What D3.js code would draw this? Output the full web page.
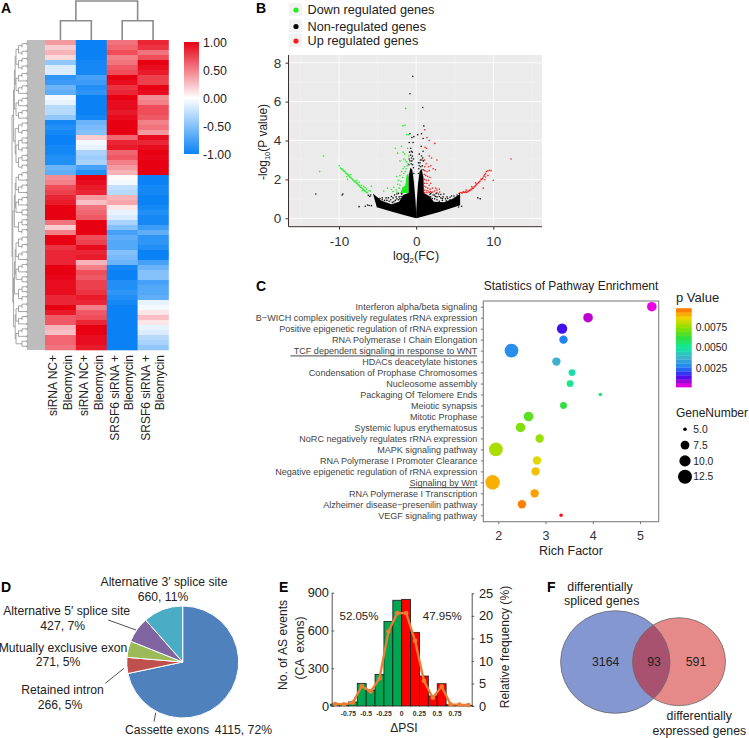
<!DOCTYPE html>
<html><head><meta charset="utf-8">
<script src="https://cdn.jsdelivr.net/npm/d3@7"></script>
<style>
html,body{margin:0;padding:0;background:#fff}
svg{display:block}
text{font-family:"Liberation Sans",Arial,sans-serif;fill:#222}
</style></head><body><svg id="c" width="749" height="738"></svg>
<script>
// ---------- A: heatmap ----------
const heatColumns=[["siRNA NC+","Bleomycin"],["siRNA NC+","Bleomycin"],["SRSF6 siRNA +","Bleomycin"],["SRSF6 siRNA +","Bleomycin"]];
const heatRows=[
[.4,-1,.55,.85],[.2,-1,.6,.8],[.3,-1,.7,.55],[.15,-1,.5,.7],[-.45,-.95,.55,1],[-.15,-.95,.65,.95],[-.15,-.95,.7,.9],
[-.85,-.75,1,.75],[-.8,-.8,.95,.75],[-.6,-.9,.8,1],[-.65,-.85,.85,.95],[-.05,-1,1,.45],[-.1,-1,.95,.5],[-.3,-1,.95,.7],
[-.3,-1,.9,.7],[-.45,-.95,.95,.65],[-.95,-.6,1,.5],[-.9,-.55,1,.55],[-.95,-.5,1,.4],[-1,.2,.6,.95],[-1,-.05,.85,.85],
[-.95,-.1,.9,.95],[-.95,-.35,.6,1],[-.9,-.4,.65,.98],[-.9,-.35,.5,1],[-.6,-.75,.4,1],[-.65,-.9,.3,1],[.45,1,.02,-1],
[.5,.95,-.05,-1],[.7,.9,-.25,-.95],[.75,.85,-.3,-.95],[.85,.4,.3,-1],[.9,.25,.35,-1],[1,.55,.1,-.95],[1,.6,-.1,-.9],
[1,.65,-.15,-.95],[.55,1,-.35,-.95],[.2,1,-.5,-.8],[.5,1,-.75,-.65],[1,.7,-.65,-.85],[1,.75,-.7,-.85],[.8,.95,-.7,-.9],
[.85,.85,-.5,-1],[.85,.9,-.55,-1],[.85,.3,-.6,-.75],[1,.5,-.95,-.6],[1,.7,-1,-.5],[.98,.65,-1,-.5],[.95,.75,-.9,-.75],
[.95,.75,-.9,-.7],[.95,.8,-.85,-.7],[.85,.9,-.9,-.65],[.85,.85,-.95,-.1],[1,.5,-1,-.05],[.9,.65,-1,.1],[.65,.7,-1,.25],
[.65,.85,-1,.1],[.3,1,-1,-.1],[.25,1,-1,-.15],[.6,.95,-1,-.3],[.6,.95,-1,-.35],[.55,.9,-1,-.45]];
const heatTicks=[1,.5,0,-.5,-1];
const rowTree=[[[[12,10],10],[6,14]],[[[10,9],7],[[[11,9],7],19]]];
const colTree=[[0,1],[2,3]];

// ---------- B: volcano ----------
const volcanoLegend=[["Down regulated genes","#19f01e"],["Non-regulated genes","#000"],["Up regulated genes","#ff1a1a"]];
const volcanoDownDense=[[-1,1.3],[-2.05,1.3],[-1.75,1.6],[-1.4,1.7],[-1.25,2.2],[-1.05,2.3],[-1,2.3]];
const volcanoNonDenseLeft=[[0,0],[-1,.11],[-3,.33],[-5.1,.57],[-5.6,1.28],[-4.5,.9],[-3.2,.72],[-2.2,.85],[-1.7,1.2],[-1,1.3],[-1,2.1],[-.75,2.6],[-.5,2.5],[-.3,1.9],[-.08,.9],[0,.3]];
const volcanoNonDenseRight=[[0,0],[1,.11],[3,.33],[5.7,.67],[5.7,1.25],[4.6,.98],[3.6,.82],[2.3,.85],[1.7,1.15],[1,1.3],[.95,2.1],[.7,2.55],[.45,2.4],[.25,1.8],[.08,.9],[0,.3]];
const volcanoDown=[[-12,3.2],[-12.5,2.4],[-10,2.7],[-9.8,2.58],[-9.7,2.55],[-9.6,2.53],[-9.5,2.48],[-9.4,2.45],[-9.3,2.42],[-9.2,2.38],[-9.1,2.33],[-9,2.3],[-8.9,2.26],[-8.8,2.22],[-8.7,2.18],[-8.6,2.14],[-8.5,2.1],[-8.4,2.06],[-8.3,2.02],[-8.2,1.98],[-8.1,1.94],[-8,1.9],[-7.9,1.86],[-7.8,1.84],[-7.7,1.8],[-7.6,1.77],[-7.5,1.72],[-7.4,1.68],[-7.3,1.64],[-7.2,1.6],[-7.1,1.58],[-7,1.54],[-6.9,1.5],[-6.8,1.46],[-6.7,1.42],[-6.6,1.4],[-6.5,1.36],[-6.4,1.33],[-6.3,1.31],[-9,2.15],[-8.5,2.25],[-8.9,2.0],[-7.7,1.95],[-7.4,1.85],[-7.1,1.7],[-6.8,1.65],[-6.6,1.58],[-7,1.42],[-6.4,1.5],[-5.8,1.65],[-6.1,1.42],[-5.9,1.4],[-4.2,1.4],[-3.7,1.55],[-2.9,1.6],[-3.2,1.48],[-2.7,3.6],[-2.4,3.35],[-1.9,3.7],[-1.35,5.65],[-1.7,4.75],[-1.45,4.78],[-1.2,4.3],[-.95,4.3],[-1.5,3.3],[-1.6,3.05],[-1.7,3.4],[-1.4,3],[-2.1,2.95],[-1.1,3.6],[-.95,3.2],[-1.25,2.9],[-1.05,2.8],[-2.5,2.15],[-2.3,1.95],[-2.1,2.2],[-1.9,2.4],[-1.7,2.55],[-1.5,2.65],[-1.3,2.55],[-1.15,2.7],[-2.2,1.55],[-2.4,1.75],[-2.6,1.45],[-3,1.38],[-2.5,1.35],[-2.1,1.7],[-1.95,1.9],[-1.75,2.1],[-1.6,2.3],[-1.4,2.4]];
const volcanoUp=[[12.3,3.05],[10,1.95],[9.7,2.45],[9.5,2.47],[9.3,2.44],[9.1,2.4],[9,2.3],[8.9,2.25],[8.8,2.18],[8.7,2.12],[8.6,2.05],[8.5,2],[8.4,2.02],[8.3,1.92],[8.2,1.88],[8.1,1.84],[8,1.8],[7.9,1.78],[7.8,1.72],[7.7,1.68],[7.6,1.62],[7.5,1.62],[7.4,1.55],[7.3,1.55],[7.2,1.5],[7.1,1.48],[7,1.43],[6.9,1.44],[6.8,1.4],[6.7,1.38],[6.6,1.34],[6.5,1.33],[6.4,1.38],[6.3,1.33],[6.2,1.34],[6.1,1.36],[6,1.31],[5.9,1.3],[5.8,1.33],[6.5,1.45],[7.7,1.82],[7.2,1.62],[8.7,1.55],[8.9,1.98],[9,2.12],[9.3,2.2],[1.1,4.55],[1.15,3.65],[1.35,3.6],[1.4,4.15],[1.7,4],[2.4,3.85],[2,3.1],[1.7,3.2],[2.7,3],[1.1,3],[1.3,2.8],[1.1,2.65],[1.6,2.65],[1.9,2.7],[2.5,2.5],[2.2,2.55],[1.1,2.45],[1.4,2.4],[1.7,2.45],[1.05,2.25],[1.25,2.2],[1.5,2.15],[1.8,2.1],[1.05,2],[1.3,1.95],[1.6,1.95],[1.9,1.8],[1.1,1.8],[1.4,1.8],[1.7,1.7],[1.05,1.65],[1.25,1.6],[1.5,1.55],[1.8,1.5],[2.1,1.55],[1.05,1.45],[1.3,1.42],[1.55,1.4],[1.85,1.38],[2.15,1.35],[2.4,1.4],[2.7,1.45],[3,1.5],[3.05,1.35],[2.55,1.55],[1.1,1.33],[1.4,1.32],[1.7,1.32],[2,1.32],[2.7,1.32]];
const volcanoNon=[[-.45,7.3],[-.8,6.4],[.85,5.7],[1,4.75],[-.8,4.35],[-.3,4.2],[.2,4.3],[.7,4.35],[.9,4.1],[-.55,4.15],[-.9,3.9],[-.7,3.6],[-.4,3.9],[.65,3.7],[.9,3.45],[-.85,3.4],[-.5,3.4],[.4,3.3],[.7,3.2],[-.6,3.1],[-.35,3.05],[.55,3.0],[.95,2.95],[-.9,3.05],[.3,2.85],
[-.95,2.75],[-.8,2.95],[-.65,2.8],[-.55,2.95],[-.45,2.75],[-.35,2.6],[-.72,3.25],[-.62,3.45],[-.48,3.2],[-.3,2.3],[.3,2.3],[.4,2.7],[.5,2.85],[.6,2.65],[.8,2.7],[.9,2.5],[.75,3],[.35,2.55],[.85,3.1],
[-13,1.25],[-9.6,1.2],[-9.5,1.25],[-7.4,.6],[8,1.05],[8.3,1],[-5.8,.65],[-6.3,.68],[-6.6,.62],[-6.1,.66],[5.9,.62],[5.5,.58],[5.2,.68],[-4.9,1],[-4.4,.95],[-3.9,1.05],[-3.6,1.05],[-3.3,.95],[-3,1.05],[-2.8,1.2],[-2.5,1.25],[-2.2,1.1],[-3.7,.65],[-3.3,.6],[-2.9,.7],[2.4,1.2],[2.7,1.1],[2.9,1.25],[3.2,1.05],[3.5,1.1],[3.8,1],[4.1,1.02],[4.6,1.15],[4.9,1.15],[5.3,1.2],[2.6,1.28],[3.2,1.22],[3.6,1.25],[-1.9,1.28],[-2.3,1.28],[1.9,1.28],[-5.9,1.2],[-6,1.12],[5.6,1.28],[-6.2,1.18],
[-4.7,1.02],[-4.1,.92],[-3.5,.88],[-3.1,.82],[-2.7,.92],[-2.5,1],[-2.3,.95],[-2.1,1],[-1.95,1.12],[-2.6,1.1],[-3.2,1.12],[-2.9,.85],[-1.85,1.25],[-3.8,.92],[-4.4,1.05],
[5.1,1.05],[4.4,.95],[3.9,.9],[3.4,.92],[3,.88],[2.7,.95],[2.4,1],[2.1,1.02],[1.9,1.1],[2.5,1.12],[3,1.12],[3.4,1.02],[4,1.1],[4.4,1.08],[1.8,1.22],[2.2,1.2]];
const volcanoXTicks=[-10,0,10];
const volcanoYTicks=[0,2,4,6,8];

// ---------- C: pathway enrichment ----------
const pathwayNames=["Interferon alpha/beta signaling","B\u2212WICH complex positively regulates rRNA expression","Positive epigenetic regulation of rRNA expression","RNA Polymerase I Chain Elongation","TCF dependent signaling in response to WNT","HDACs deacetylate histones","Condensation of Prophase Chromosomes","Nucleosome assembly","Packaging Of Telomere Ends","Meiotic synapsis","Mitotic Prophase","Systemic lupus erythematosus","NoRC negatively regulates rRNA expression","MAPK signaling pathway","RNA Polymerase I Promoter Clearance","Negative epigenetic regulation of rRNA expression","Signaling by Wnt","RNA Polymerase I Transcription","Alzheimer disease\u2212presenilin pathway","VEGF signaling pathway"];
const pathwayRich=[5.25,3.9,3.35,3.38,2.28,3.23,3.56,3.52,4.16,3.38,2.64,2.47,2.875,1.95,2.82,2.79,1.88,2.77,2.5,3.33];
const pathwayGenes=[8,8,9,7,12,7,6,6,5,6,8,8,7,12,7,7,13,7,7,5];
const pathwayP=[.0004,.0008,.0016,.0027,.003,.0038,.0048,.0052,.0056,.0062,.0068,.0073,.0076,.0078,.0084,.0088,.009,.0092,.0095,.0102];
const pathwayUnderlined=["TCF dependent signaling in response to WNT","Signaling by Wnt"];
const pTicks=[.0075,.005,.0025];
const geneTicks=[5,7.5,10,12.5];
const pStops=[.0003,.0008,.0016,.0027,.0038,.005,.0062,.0075,.0085,.0092,.0097,.0102];
const pColors=["#f500e6","#c000d0","#4010f0","#2080f5","#40b0d0","#10e8a0","#30e040","#90e000","#e8d800","#ffa000","#ff6a00","#ff1010"];
const geneStops=[5,6,7,7.5,8,9,10,12,12.5,13];
const geneRadii=[1.8,3.4,4.2,4.4,4.8,5.2,5.6,6.9,7,7.3];

// ---------- D: pie ----------
const pieNames=["Cassette exons","Retained intron","Mutually exclusive exon","Alternative 5\u2032 splice site","Alternative 3\u2032 splice site"];
const pieValues=[4115,266,271,427,660];
const piePercents=[72,5,5,7,11];
const pieColors=["#4f81bd","#c0504d","#9bbb59","#8064a2","#4bacc6"];

// ---------- E: histogram ----------
const psiBinStart=[-1,-.875,-.75,-.625,-.5,-.375,-.25,-.125,0,.125,.25,.375,.5,.625,.75,.875];
const psiCounts=[15,10,32,180,127,250,672,840,847,585,238,80,177,10,8,5];
const psiFreq=[.45,.37,.75,4.4,3.2,6.1,16.5,20.6,20.6,14.5,5.6,1.85,4.3,.37,.3,.2];
const psiXTicks=[-.75,-.5,-.25,0,.25,.5,.75];
const psiLeftTicks=[0,300,600,900];
const psiRightTicks=[0,5,10,15,20,25];

// ---------- F: venn ----------
const vennNumbers=["3164","93","591"];

const svg=d3.select("#c");
function txt(g,x,y,s,size,anchor,extra){
  const t=g.append("text").attr("x",x).attr("y",y).attr("font-size",size).attr("text-anchor",anchor||"start").text(s);
  if(extra)extra(t);return t;
}
function styleAxis(a,col,w){a.select(".domain").attr("stroke",col).attr("stroke-width",w);a.selectAll(".tick line").attr("stroke",col).attr("stroke-width",w);}

[["A",1,12.5],["B",256,12.5],["C",256,291],["D",1,592],["E",279,592],["F",547,592]].forEach(d=>{
  txt(svg,d[1],d[2],d[0],14,"start",t=>t.attr("font-weight","bold").style("fill","#000"));
});

// ===== A =====
(function(){
  const g=svg.append("g");
  const x=d3.scaleBand().domain([0,1,2,3]).range([45,168.5]);
  const y=d3.scaleBand().domain(d3.range(heatRows.length)).range([40,350]);
  const col=d3.scaleLinear().domain([-1,0,1]).range(["#0a82f5","#ffffff","#e60012"]);
  heatRows.forEach((row,r)=>row.forEach((v,c)=>{
    g.append("rect").attr("x",x(c)).attr("y",y(r)).attr("width",x.bandwidth()+.3).attr("height",y.bandwidth()+.3).attr("fill",col(v));
  }));
  // top dendrogram
  const cx=i=>x(i)+x.bandwidth()/2;
  const dy=d3.scaleLinear().domain([0,1,2]).range([40,20.7,1]);
  const path=d3.path();
  colTree.forEach(p=>{
    path.moveTo(cx(p[0]),dy(0));path.lineTo(cx(p[0]),dy(1));path.lineTo(cx(p[1]),dy(1));path.lineTo(cx(p[1]),dy(0));
  });
  const m0=(cx(0)+cx(1))/2,m1=(cx(2)+cx(3))/2;
  path.moveTo(m0,dy(1));path.lineTo(m0,dy(2));path.lineTo(m1,dy(2));path.lineTo(m1,dy(1));
  g.append("path").attr("d",path.toString()).attr("fill","none").attr("stroke","#8c8c8c").attr("stroke-width",1.6);
  // left dendrogram
  function expand(n){
    if(Array.isArray(n))return {children:n.map(expand)};
    if(n<=1)return {};
    const a=Math.ceil(n/2);return {children:[expand(a),expand(n-a)]};
  }
  const root=d3.hierarchy(expand(rowTree));
  const n=root.leaves().length,step=310/n;
  d3.cluster().size([310-step,1]).separation(()=>1)(root);
  const H=root.height;
  const hx=d3.scaleLinear().domain([1,2,3,4,H]).range([27,22,18.5,16,12]);
  const ny=d=>40+step/2+d.x;
  const xOf=d=>d.height===0?45:hx(d.height);
  const lines=d3.path();
  root.descendants().filter(d=>d.children).forEach(d=>{
    const ys=d.children.map(ny);const px=xOf(d);
    lines.moveTo(px,d3.min(ys));lines.lineTo(px,d3.max(ys));
    d.children.forEach(c=>{if(c.height>0){lines.moveTo(px,ny(c));lines.lineTo(xOf(c),ny(c));}});
  });
  g.append("rect").attr("x",27).attr("y",40).attr("width",18).attr("height",310).attr("fill","#bdbdbd");
  g.append("path").attr("d",lines.toString()).attr("fill","none").attr("stroke","#8a8a8a").attr("stroke-width",.75);
  // column labels
  heatColumns.forEach((lab,i)=>{
    const c=cx(i);
    [[-7.5,lab[0]],[7,lab[1]]].forEach(o=>{
      g.append("text").attr("transform",`translate(${c+o[0]+4.3},355) rotate(-90)`).attr("text-anchor","end").attr("font-size",12).text(o[1]);
    });
  });
  // colour bar
  const by=d3.scaleLinear().domain([1,-1]).range([42,154]);
  const defs=svg.append("defs");
  const lg=defs.append("linearGradient").attr("id","hb").attr("x1",0).attr("x2",0).attr("y1",1).attr("y2",0);
  heatTicks.slice().reverse().forEach(v=>lg.append("stop").attr("offset",(v+1)/2).attr("stop-color",col(v)));
  g.append("rect").attr("x",184).attr("y",by(1)).attr("width",15).attr("height",by(-1)-by(1)).attr("fill","url(#hb)");
  heatTicks.forEach(v=>txt(g,203,by(v)+4.6,d3.format(".2f")(v).replace("\u2212","-"),12.3));
})();

// ===== B =====
(function(){
  const g=svg.append("g");
  const x=d3.scaleLinear().domain([-10,10]).range([339,493.3]);
  const y=d3.scaleLinear().domain([0,8]).range([218.3,62.7]);
  const L=288.5,R=542,T=55,B=226.7;
  g.append("rect").attr("x",L).attr("y",T).attr("width",R-L).attr("height",B-T).attr("fill","#ebebeb");
  [-15,-5,5,15].forEach(v=>g.append("line").attr("x1",x(v)).attr("x2",x(v)).attr("y1",T).attr("y2",B).attr("stroke","#f4f4f4").attr("stroke-width",.5));
  [1,3,5,7].forEach(v=>g.append("line").attr("y1",y(v)).attr("y2",y(v)).attr("x1",L).attr("x2",R).attr("stroke","#f4f4f4").attr("stroke-width",.5));
  volcanoXTicks.forEach(v=>g.append("line").attr("x1",x(v)).attr("x2",x(v)).attr("y1",T).attr("y2",B).attr("stroke","#fff").attr("stroke-width",.8));
  volcanoYTicks.forEach(v=>g.append("line").attr("y1",y(v)).attr("y2",y(v)).attr("x1",L).attr("x2",R).attr("stroke","#fff").attr("stroke-width",.8));
  const poly=d3.line().x(d=>x(d[0])).y(d=>y(d[1])).curve(d3.curveLinearClosed);
  g.append("path").attr("d",poly(volcanoNonDenseLeft)).attr("fill","#000");
  g.append("path").attr("d",poly(volcanoNonDenseRight)).attr("fill","#000");
  g.selectAll(null).data(volcanoNon).join("circle").attr("cx",d=>x(d[0])).attr("cy",d=>y(d[1])).attr("r",.8).attr("fill","#111");
  g.append("path").attr("d",poly(volcanoDownDense)).attr("fill","#19f01e");
  g.selectAll(null).data(volcanoDown).join("circle").attr("cx",d=>x(d[0])).attr("cy",d=>y(d[1])).attr("r",.8).attr("fill","#19f01e");
  g.selectAll(null).data(volcanoUp).join("circle").attr("cx",d=>x(d[0])).attr("cy",d=>y(d[1])).attr("r",.8).attr("fill","#ff1a1a");
  const ax=g.append("g").attr("transform",`translate(0,${B})`).call(d3.axisBottom(x).tickValues(volcanoXTicks).tickFormat(d=>String(d)).tickSize(3).tickSizeOuter(0));
  const ay=g.append("g").attr("transform",`translate(${L},0)`).call(d3.axisLeft(y).tickValues(volcanoYTicks).tickFormat(d=>String(d)).tickSize(3).tickSizeOuter(0));
  ax.select(".domain").attr("d",`M${L},0H${R}`);
  ay.select(".domain").attr("d",`M0,${T}V${B}`);
  [ax,ay].forEach(a=>{styleAxis(a,"#3a2f2f",1);a.selectAll("text").attr("font-size",13.5).style("fill","#333");});
  ax.selectAll("text").attr("dy","1em");
  ay.selectAll("text").attr("dx","-.1em");
  const xl=txt(g,416,260,"",12.5,"middle");
  xl.append("tspan").text("log");xl.append("tspan").attr("font-size",8).attr("dy",3).text("2");xl.append("tspan").attr("dy",-3).text("(FC)");
  const yl=g.append("text").attr("transform","translate(267,142) rotate(-90)").attr("text-anchor","middle").attr("font-size",12);
  yl.append("tspan").text("-log");yl.append("tspan").attr("font-size",7.5).attr("dy",3).text("10");yl.append("tspan").attr("dy",-3).text("(P value)");
  // legend
  [9.5,26,40.5].forEach((cy,i)=>{
    g.append("rect").attr("x",289).attr("y",cy-6.5).attr("width",13).attr("height",13).attr("fill","#f2f2f2");
    g.append("circle").attr("cx",296).attr("cy",cy+.5).attr("r",2.6).attr("fill",volcanoLegend[i][1]);
    txt(g,307.5,cy+4.5,volcanoLegend[i][0],12.7);
  });
})();

// ===== C =====
(function(){
  const g=svg.append("g");
  const L=483.3,R=658.7,T=301,B=521.7;
  const x=d3.scaleLinear().domain([2,5]).range([498.3,640]);
  const y=d3.scalePoint().domain(pathwayNames).range([306.7,515.3]);
  const col=d3.scaleLinear().domain(pStops).range(pColors);
  const rad=d3.scaleLinear().domain(geneStops).range(geneRadii);
  const ay=g.append("g").attr("transform",`translate(${L},0)`).call(d3.axisLeft(y).tickSize(2.5).tickSizeOuter(0).tickPadding(3.5));
  ay.select(".domain").remove();
  ay.selectAll(".tick line").attr("stroke","#555").attr("stroke-width",.8);
  ay.selectAll("text").attr("font-size",9.05).style("fill","#444");
  const ax=g.append("g").attr("transform",`translate(0,${B})`).call(d3.axisBottom(x).tickValues([2,3,4,5]).tickFormat(d=>String(d)).tickSize(2.5).tickSizeOuter(0));
  ax.select(".domain").remove();
  ax.selectAll(".tick line").attr("stroke","#555").attr("stroke-width",.8);
  ax.selectAll("text").attr("font-size",12.5).attr("dy","1em").style("fill","#333");
  g.append("rect").attr("x",L).attr("y",T).attr("width",R-L).attr("height",B-T).attr("fill","none").attr("stroke","#808080").attr("stroke-width",1.1);
  pathwayNames.forEach((n,i)=>{
    g.append("circle").attr("cx",x(pathwayRich[i])).attr("cy",y(n)).attr("r",rad(pathwayGenes[i])).attr("fill",col(pathwayP[i]));
  });
  // underlines beneath labelled rows
  pathwayUnderlined.forEach((n,i)=>{
    const lab=ay.selectAll("text").filter(d=>d===n).node();
    const w=lab.getComputedTextLength();
    g.append("line").attr("x1",477-w-(i?0:3)).attr("x2",477-(i?2:0)).attr("y1",y(n)+5.3).attr("y2",y(n)+5.3).attr("stroke","#333").attr("stroke-width",.9);
  });
  txt(g,571,290,"Statistics of Pathway Enrichment",12,"middle");
  txt(g,571,555,"Rich Factor",12.5,"middle");
  txt(g,676,302,"p Value",13);
  txt(g,676,417,"GeneNumber",12);
  const by=d3.scaleLinear().domain([.0025,.0075]).range([368.7,327]);
  const bars=d3.range(0,20);
  const lo=.0003,hi=.00975,st=(hi-lo)/20;
  bars.forEach(i=>{
    const v=lo+st*i;
    g.append("rect").attr("x",676).attr("y",by(v+st)).attr("width",15.7).attr("height",by(v)-by(v+st)+.3).attr("fill",col(v+st/2));
  });
  pTicks.forEach(v=>txt(g,695.7,by(v)+3.6,d3.format(".4f")(v),10.3));
  geneTicks.forEach((v,i)=>{
    const cy=429.3+i*15.8;
    g.append("circle").attr("cx",685).attr("cy",cy).attr("r",rad(v)).attr("fill","#000");
    txt(g,693.3,cy+3.6,d3.format(".1f")(v),10.3);
  });
})();

// ===== D =====
(function(){
  const g=svg.append("g").attr("transform","translate(182.7,662)");
  const arcs=d3.pie().sort(null).value((d,i)=>pieValues[i])(pieNames.map((n,i)=>i));
  const arc=d3.arc().innerRadius(0).outerRadius(56);
  arcs.forEach((a,i)=>{
    g.append("path").attr("d",arc(a)).attr("fill",pieColors[i]).attr("stroke","#fff").attr("stroke-width",1);
  });
  const T=svg.append("g");
  const size=12.2;
  const lab=i=>`${pieValues[i]}, ${piePercents[i]}%`;
  txt(T,164,585.7,pieNames[4],size,"middle");txt(T,163,600.7,lab(4),size,"middle");
  txt(T,66.7,615,pieNames[3],size,"middle");txt(T,62.7,630,lab(3),size,"middle");
  txt(T,63,651.7,pieNames[2],size,"middle");txt(T,58,666,lab(2),size,"middle");
  txt(T,62.5,694,pieNames[1],size,"middle");txt(T,60,708.5,lab(1),size,"middle");
  txt(T,125,733.7,pieNames[0],size,"start");
  txt(T,272,733.7,lab(0),size,"end");
  [[108.3,620,136,630],[105.3,683.3,124,668.3],[155.7,712.7,154,721.7]].forEach(l=>{
    T.append("line").attr("x1",l[0]).attr("y1",l[1]).attr("x2",l[2]).attr("y2",l[3]).attr("stroke","#222").attr("stroke-width",.8);
  });
})();

// ===== E =====
(function(){
  const g=svg.append("g");
  const x=d3.scaleLinear().domain([0,.75]).range([401.7,455]);
  const yL=d3.scaleLinear().domain([0,900]).range([706,592.7]);
  const yR=d3.scaleLinear().domain([0,25]).range([706,593.3]);
  psiBinStart.forEach((s,i)=>{
    g.append("rect").attr("x",x(s)).attr("y",yL(psiCounts[i])).attr("width",x(s+.125)-x(s)).attr("height",yL(0)-yL(psiCounts[i]))
      .attr("fill",s<0?"#00a651":"#ff0000").attr("stroke","#1a1a1a").attr("stroke-width",.8);
  });
  const line=d3.line().x((d,i)=>x(psiBinStart[i]+.0625)).y(d=>yR(d));
  g.append("path").attr("d",line(psiFreq)).attr("fill","none").attr("stroke","#ed7d31").attr("stroke-width",2.3);
  psiFreq.forEach((f,i)=>g.append("circle").attr("cx",x(psiBinStart[i]+.0625)).attr("cy",yR(f)).attr("r",2.3).attr("fill","#ed7d31"));
  const aL=g.append("g").attr("transform","translate(331.7,0)").call(d3.axisRight(yL).tickValues(psiLeftTicks).tickSize(2.5).tickFormat("").tickSizeOuter(0));
  styleAxis(aL,"#555",1);
  psiLeftTicks.forEach(v=>txt(g,329,yL(v)+4.6,String(v),12.8,"end"));
  const aR=g.append("g").attr("transform","translate(471.7,0)").call(d3.axisRight(yR).tickValues(psiRightTicks).tickSize(2.5).tickFormat("").tickSizeOuter(0));
  styleAxis(aR,"#555",1);
  psiRightTicks.forEach(v=>txt(g,479,yR(v)+4.6,String(v),12.8));
  psiXTicks.forEach(v=>txt(g,x(v),716,String(v),6.8,"middle",t=>t.attr("font-weight","bold").style("fill","#333")));
  txt(g,359,620,"52.05%",11.5,"middle");
  txt(g,442.3,620,"47.95%",11.5,"middle");
  txt(g,404,732,"\u0394PSI",12,"middle");
  [["No. of AS events",287,645],["(CA  exons)",304,648],["Relative frequency (%)",508.5,647]].forEach(d=>{
    g.append("text").attr("transform",`translate(${d[1]},${d[2]}) rotate(-90)`).attr("text-anchor","middle").attr("font-size",12.1).style("white-space","pre").text(d[0]);
  });
})();

// ===== F =====
(function(){
  const g=svg.append("g");
  const defs=svg.append("defs");
  const blue={cx:615.3,cy:662,rx:54.7,ry:51.3},red={cx:679,cy:661.7,rx:46.5,ry:44};
  defs.append("clipPath").attr("id","blueClip").append("ellipse").attr("cx",blue.cx).attr("cy",blue.cy).attr("rx",blue.rx).attr("ry",blue.ry);
  const put=(o,fill)=>g.append("ellipse").attr("cx",o.cx).attr("cy",o.cy).attr("rx",o.rx).attr("ry",o.ry).attr("fill",fill);
  put(blue,"#8497d1");
  put(red,"#e68989");
  put(red,"#a9526f").attr("clip-path","url(#blueClip)");
  put(blue,"none").attr("stroke","#6a6a6a").attr("stroke-width",.8);
  put(red,"none").attr("stroke","#6a6a6a").attr("stroke-width",.8);
  [605.7,654,696].forEach((cx,i)=>txt(g,cx,666,vennNumbers[i],12.3,"middle"));
  txt(g,600,590.7,"differentially",12.3,"middle");
  txt(g,601.7,605,"spliced genes",12.3,"middle");
  txt(g,699.3,720,"differentially",12.3,"middle");
  txt(g,699.3,735,"expressed genes",12.3,"middle");
})();
</script></body></html>
